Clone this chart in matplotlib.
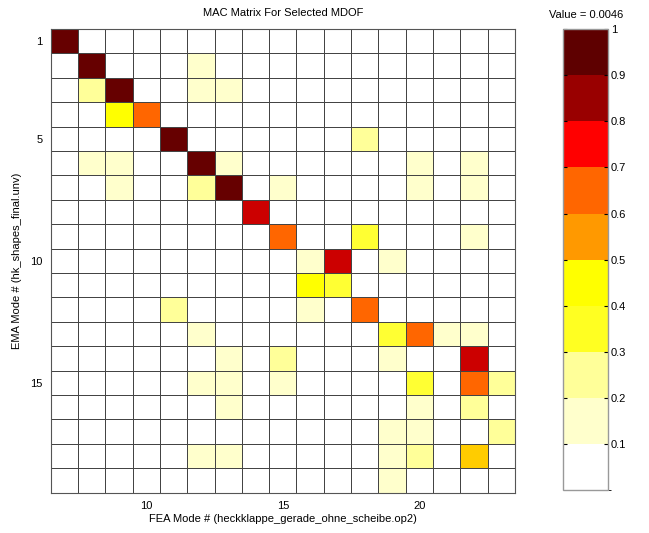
import numpy as np
import matplotlib
matplotlib.use("Agg")
import matplotlib.pyplot as plt
from matplotlib.colors import ListedColormap, BoundaryNorm
from matplotlib.cm import ScalarMappable

plt.rcParams["font.family"] = ["Liberation Sans", "DejaVu Sans"]

# mode numbers on each axis
ema_modes = list(range(1, 20))   # rows
fea_modes = list(range(7, 24))   # columns

# MAC values, one row per EMA mode, one column per FEA mode (7..23)
mac = [
    [0.98, 0, 0, 0, 0, 0, 0, 0, 0, 0, 0, 0, 0, 0, 0, 0, 0],
    [0, 0.97, 0, 0, 0, 0.15, 0, 0, 0, 0, 0, 0, 0, 0, 0, 0, 0],
    [0, 0.25, 0.96, 0, 0, 0.15, 0.15, 0, 0, 0, 0, 0, 0, 0, 0, 0, 0],
    [0, 0, 0.45, 0.65, 0, 0, 0, 0, 0, 0, 0, 0, 0, 0, 0, 0, 0],
    [0, 0, 0, 0, 0.97, 0, 0, 0, 0, 0, 0, 0.25, 0, 0, 0, 0, 0],
    [0, 0.15, 0.15, 0, 0, 0.95, 0.15, 0, 0, 0, 0, 0, 0, 0.15, 0, 0.15, 0],
    [0, 0, 0.15, 0, 0, 0.25, 0.96, 0, 0.15, 0, 0, 0, 0, 0.15, 0, 0.15, 0],
    [0, 0, 0, 0, 0, 0, 0, 0.85, 0, 0, 0, 0, 0, 0, 0, 0, 0],
    [0, 0, 0, 0, 0, 0, 0, 0, 0.65, 0, 0, 0.35, 0, 0, 0, 0.15, 0],
    [0, 0, 0, 0, 0, 0, 0, 0, 0, 0.15, 0.85, 0, 0.15, 0, 0, 0, 0],
    [0, 0, 0, 0, 0, 0, 0, 0, 0, 0.45, 0.35, 0, 0, 0, 0, 0, 0],
    [0, 0, 0, 0, 0.25, 0, 0, 0, 0, 0.15, 0, 0.65, 0, 0, 0, 0, 0],
    [0, 0, 0, 0, 0, 0.15, 0, 0, 0, 0, 0, 0, 0.35, 0.65, 0.15, 0.15, 0],
    [0, 0, 0, 0, 0, 0, 0.15, 0, 0.25, 0, 0, 0, 0.15, 0, 0, 0.85, 0],
    [0, 0, 0, 0, 0, 0.15, 0.15, 0, 0.15, 0, 0, 0, 0, 0.35, 0, 0.65, 0.25],
    [0, 0, 0, 0, 0, 0, 0.15, 0, 0, 0, 0, 0, 0, 0.15, 0, 0.25, 0],
    [0, 0, 0, 0, 0, 0, 0, 0, 0, 0, 0, 0, 0.15, 0.15, 0, 0, 0.25],
    [0, 0, 0, 0, 0, 0.15, 0.15, 0, 0, 0, 0, 0, 0.15, 0.25, 0, 0.55, 0],
    [0, 0, 0, 0, 0, 0, 0, 0, 0, 0, 0, 0, 0.15, 0, 0, 0, 0],
]

levels = np.linspace(0, 1, 11)
cell_colors = ["#FFFFFF", "#FFFFCC", "#FFFF99", "#FFFF33", "#FFFF00",
               "#FFCC00", "#FF6600", "#FF0000", "#CC0000", "#660000"]
bar_colors = ["#FFFFFF", "#FFFFCC", "#FFFF99", "#FFFF22", "#FFFF00",
              "#FF9900", "#FF6600", "#FF0000", "#990000", "#5E0000"]
cell_cmap = ListedColormap(cell_colors)
bar_cmap = ListedColormap(bar_colors)
norm = BoundaryNorm(levels, 10)

fig = plt.figure(figsize=(6.49, 5.33), dpi=100)
ax = fig.add_axes([0.078, 0.0756, 0.7155, 0.870])

x_edges = np.arange(fea_modes[0] - 0.5, fea_modes[-1] + 1.0)
y_edges = np.arange(ema_modes[0] - 0.5, ema_modes[-1] + 1.0)
ax.pcolormesh(x_edges, y_edges, np.array(mac), cmap=cell_cmap, norm=norm,
              edgecolors="#444444", linewidth=0.55)
ax.set_xlim(x_edges[0], x_edges[-1])
ax.set_ylim(y_edges[-1], y_edges[0])
ax.set_xticks([10, 15, 20])
ax.set_yticks([1, 5, 10, 15])
ax.tick_params(length=0, labelsize=8, pad=6)
for s in ax.spines.values():
    s.set_color("#555555")
    s.set_linewidth(0.8)
ax.set_xlabel("FEA Mode # (heckklappe_gerade_ohne_scheibe.op2)", fontsize=8, labelpad=2)
ax.set_ylabel("EMA Mode # (hk_shapes_final.unv)", fontsize=8, labelpad=6)
ax.set_title("MAC Matrix For Selected MDOF", fontsize=8, pad=9)

# colour scale
cax = fig.add_axes([0.868, 0.081, 0.069, 0.864])
cb = fig.colorbar(ScalarMappable(norm=norm, cmap=bar_cmap), cax=cax,
                  ticks=[0.1, 0.2, 0.3, 0.4, 0.5, 0.6, 0.7, 0.8, 0.9, 1.0])
cb.ax.set_yticklabels(["0.1", "0.2", "0.3", "0.4", "0.5", "0.6", "0.7", "0.8", "0.9", "1"])
cb.ax.tick_params(direction="in", left=True, right=True, length=3, width=0.8,
                  labelsize=8, pad=2)
cb.outline.set_edgecolor("#999999")
cb.outline.set_linewidth(1.0)
cb.ax.set_title("Value = 0.0046", fontsize=8, pad=8)

fig.savefig("out.png", dpi=100)
